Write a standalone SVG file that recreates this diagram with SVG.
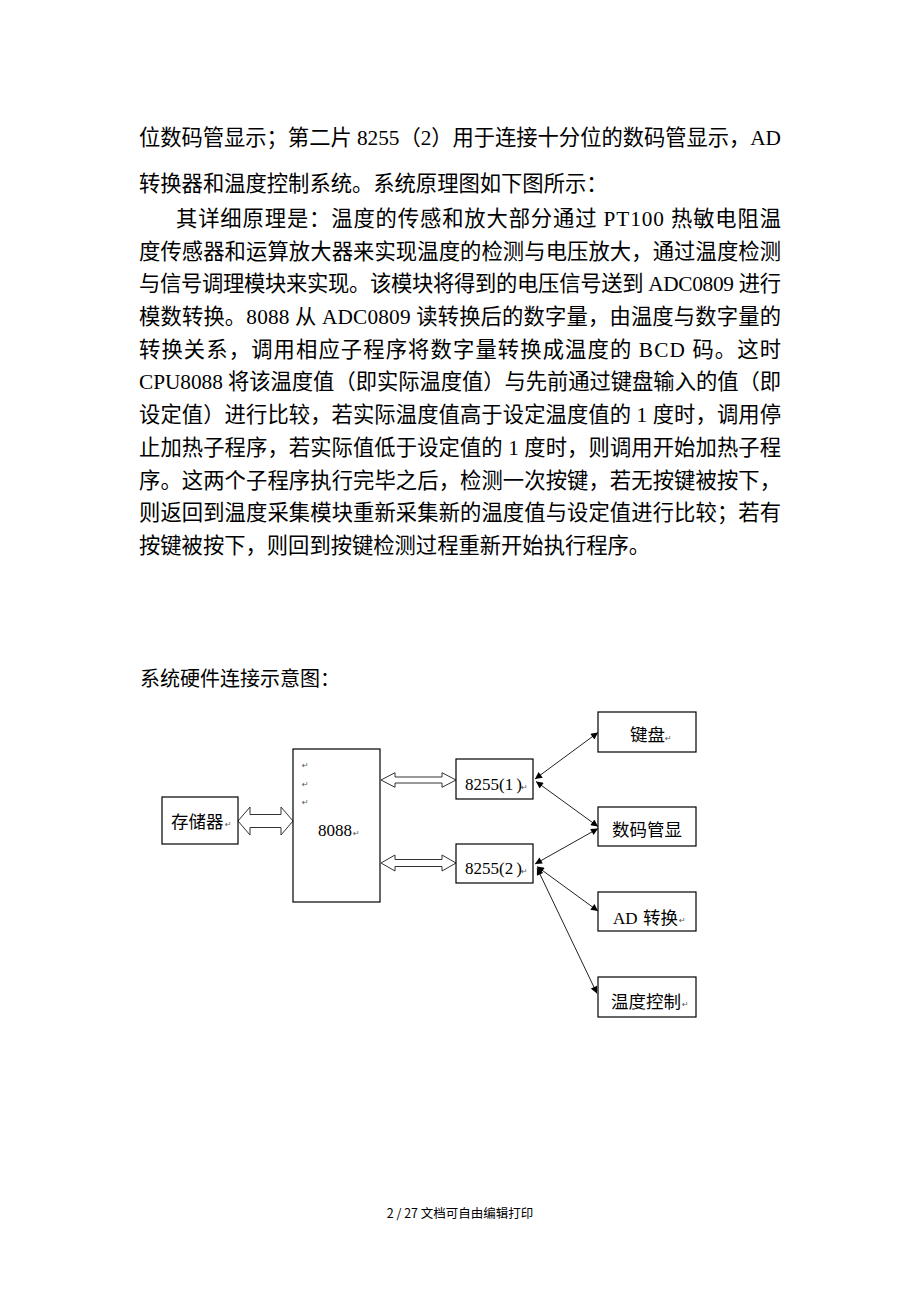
<svg xmlns="http://www.w3.org/2000/svg" width="920" height="1302" viewBox="0 0 920 1302">
<style>
.body{font-family:"Liberation Serif","Noto Sans CJK SC",serif;font-size:21.3px;fill:#000}
.cap{font-family:"Noto Sans CJK SC",sans-serif;font-size:20px;fill:#000}
.foot{font-family:"Noto Sans CJK SC",sans-serif;font-size:12.5px;fill:#000}
.box{fill:#fff;stroke:#000;stroke-width:1.2}
.lbl{font-family:"Noto Sans CJK SC",sans-serif;font-size:17.5px;fill:#000}
.num{font-family:"Liberation Serif","Noto Sans CJK SC",serif;font-size:17px;fill:#000}
.ret{font-family:"DejaVu Sans",sans-serif;font-size:8px;fill:#555}
.bus{fill:#fff;stroke:#333;stroke-width:1}
.line{fill:none;stroke:#222;stroke-width:1;marker-start:url(#ah);marker-end:url(#ah)}
</style>
<defs>
<marker id="ah" viewBox="0 0 10 10" refX="10" refY="5" markerWidth="9" markerHeight="7" markerUnits="userSpaceOnUse" orient="auto-start-reverse">
<path d="M0,0 L10,5 L0,10 Z" fill="#000"/>
</marker>
</defs>
<rect width="920" height="1302" fill="#fff"/>
<g id="text">
<text class="body" x="139" y="145" textLength="642" lengthAdjust="spacing">位数码管显示；第二片 8255（2）用于连接十分位的数码管显示，AD</text>
<text class="body" x="139" y="191">转换器和温度控制系统。系统原理图如下图所示：</text>
<text class="body" x="176" y="226" textLength="605" lengthAdjust="spacing">其详细原理是：温度的传感和放大部分通过 PT100 热敏电阻温</text>
<text class="body" x="139" y="259" textLength="642" lengthAdjust="spacing">度传感器和运算放大器来实现温度的检测与电压放大，通过温度检测</text>
<text class="body" x="139" y="291" textLength="642" lengthAdjust="spacing">与信号调理模块来实现。该模块将得到的电压信号送到 ADC0809 进行</text>
<text class="body" x="139" y="324" textLength="642" lengthAdjust="spacing">模数转换。8088 从 ADC0809 读转换后的数字量，由温度与数字量的</text>
<text class="body" x="139" y="357" textLength="642" lengthAdjust="spacing">转换关系，调用相应子程序将数字量转换成温度的 BCD 码。这时</text>
<text class="body" x="139" y="389" textLength="642" lengthAdjust="spacing">CPU8088 将该温度值（即实际温度值）与先前通过键盘输入的值（即</text>
<text class="body" x="139" y="422" textLength="642" lengthAdjust="spacing">设定值）进行比较，若实际温度值高于设定温度值的 1 度时，调用停</text>
<text class="body" x="139" y="455" textLength="642" lengthAdjust="spacing">止加热子程序，若实际值低于设定值的 1 度时，则调用开始加热子程</text>
<text class="body" x="139" y="488" textLength="642" lengthAdjust="spacing">序。这两个子程序执行完毕之后，检测一次按键，若无按键被按下，</text>
<text class="body" x="139" y="520" textLength="642" lengthAdjust="spacing">则返回到温度采集模块重新采集新的温度值与设定值进行比较；若有</text>
<text class="body" x="139" y="553">按键被按下，则回到按键检测过程重新开始执行程序。</text>
<text class="cap" x="140" y="686">系统硬件连接示意图：</text>
<text class="foot" x="460" y="1218" text-anchor="middle">2 / 27 文档可自由编辑打印</text>
</g>
<g id="connectors">
<polygon class="bus" points="238,821 250,807 250,814.5 281,814.5 281,807 293,821 281,835 281,827.5 250,827.5 250,835"/>
<polygon class="bus" points="381,780 395,772.7 395,777 442,777 442,772.7 456,780 442,787.3 442,783 395,783 395,787.3"/>
<polygon class="bus" points="381,863 395,855 395,859.5 442,859.5 442,855 456,863 442,871 442,866.5 395,866.5 395,871"/>
<line class="line" x1="535" y1="779" x2="598" y2="732.5"/>
<line class="line" x1="536" y1="781.5" x2="598" y2="826.5"/>
<line class="line" x1="535" y1="864" x2="598" y2="828.5"/>
<line class="line" x1="537" y1="866.5" x2="598" y2="911"/>
<line class="line" x1="537" y1="868" x2="597" y2="993.5"/>
</g>
<g id="mem">
<rect class="box" x="162" y="797" width="76" height="47"/>
<text class="lbl" x="171" y="828">存储器</text><text class="ret" x="225" y="827">↵</text>
</g>
<g id="cpu8088">
<rect class="box" x="293" y="749" width="87" height="153"/>
<text class="ret" x="302" y="768">↵</text>
<text class="ret" x="302" y="787">↵</text>
<text class="ret" x="302" y="805">↵</text>
<text class="num" x="318" y="836">8088</text><text class="ret" x="353" y="836">↵</text>
</g>
<g id="p8255a">
<rect class="box" x="456" y="759" width="77" height="40"/>
<text class="num" x="465" y="790">8255(1<tspan dx="3">)</tspan></text><text class="ret" x="521" y="790">↵</text>
</g>
<g id="p8255b">
<rect class="box" x="456" y="844" width="77" height="39"/>
<text class="num" x="465" y="874">8255(2<tspan dx="3">)</tspan></text><text class="ret" x="521" y="874">↵</text>
</g>
<g id="keyboard">
<rect class="box" x="598" y="712" width="98" height="40"/>
<text class="lbl" x="630" y="741">键盘</text><text class="ret" x="665" y="741">↵</text>
</g>
<g id="display">
<rect class="box" x="598" y="807" width="98" height="39"/>
<text class="lbl" x="612" y="836">数码管显</text>
</g>
<g id="adc">
<rect class="box" x="598" y="892" width="98" height="39"/>
<text class="num" x="613" y="924">AD</text><text class="lbl" x="643" y="924">转换</text><text class="ret" x="679" y="923">↵</text>
</g>
<g id="tempctl">
<rect class="box" x="598" y="977" width="98" height="40"/>
<text class="lbl" x="611" y="1008">温度控制</text><text class="ret" x="682" y="1007">↵</text>
</g>
</svg>
